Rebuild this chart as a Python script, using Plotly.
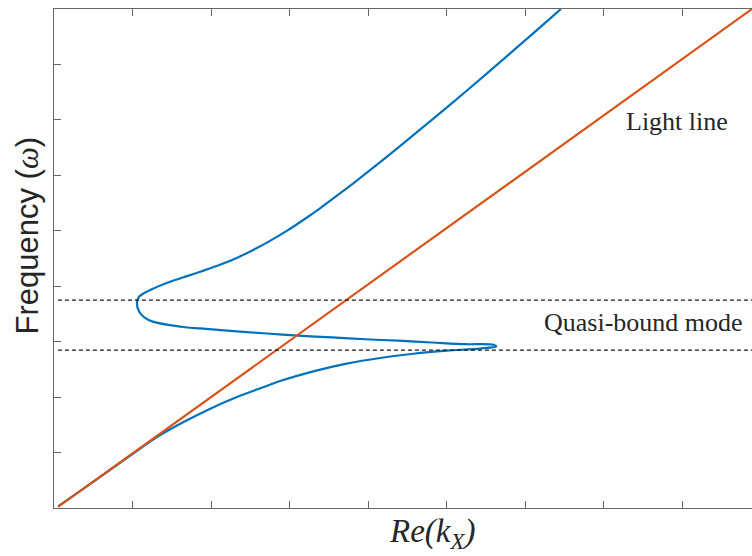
import plotly.graph_objects as go

# Light line
light_x = [0.05, 8.89]
light_y = [0.02, 9.0]

# Dispersion curve (continuous): lower branch -> tip -> middle -> nose -> upper branch
disp_x = [0.057, 0.50, 0.99, 1.311, 1.650, 1.990, 2.330, 2.669, 2.878, 3.302, 3.728, 4.152,
          4.576, 5.001, 5.425, 5.633, 5.599, 5.238, 4.818, 4.385, 3.964, 3.544, 3.111,
          2.712, 2.287, 1.862, 1.693, 1.480, 1.268, 1.150, 1.085, 1.056, 1.079, 1.140,
          1.268, 1.480, 1.693, 1.901, 2.114, 2.327, 2.538, 2.751, 2.964, 3.175, 3.388,
          3.600, 3.812, 4.194, 4.619, 5.043, 5.467, 5.893, 6.317, 6.457]
disp_y = [0.033, 0.47, 0.965, 1.279, 1.550, 1.792, 2.002, 2.182, 2.290, 2.465, 2.604, 2.706,
          2.782, 2.837, 2.876, 2.913, 2.945, 2.954, 2.985, 3.017, 3.044, 3.077, 3.108,
          3.147, 3.189, 3.238, 3.256, 3.297, 3.357, 3.440, 3.540, 3.689, 3.803, 3.870,
          3.960, 4.080, 4.182, 4.280, 4.387, 4.511, 4.655, 4.818, 4.998, 5.195, 5.406,
          5.628, 5.857, 6.284, 6.773, 7.271, 7.781, 8.303, 8.826, 9.0]

# Quasi-bound mode frequency bounds (dashed)
dash_levels = [3.749, 2.846]
dash_x = [0.05, 8.89]

x_range = [0, 8.89]
y_range = [0, 9]

fig = go.Figure()
fig.add_trace(go.Scatter(x=disp_x, y=disp_y, mode="lines",
                         line=dict(color="#0072BD", width=2.2, shape="spline", smoothing=0.8),
                         showlegend=False))
fig.add_trace(go.Scatter(x=light_x, y=light_y, mode="lines",
                         line=dict(color="#D95319", width=2.2), showlegend=False))
for lv in dash_levels:
    fig.add_trace(go.Scatter(x=dash_x, y=[lv, lv], mode="lines",
                             line=dict(color="#1a1a1a", width=1.2, dash="4px,3px"),
                             showlegend=False))

axis_common = dict(showgrid=False, zeroline=False, showticklabels=False,
                   ticks="inside", ticklen=7, tickwidth=1, tickcolor="#666666",
                   showline=True, linecolor="#666666", linewidth=1)

fig.update_xaxes(range=x_range, dtick=1, tick0=0, mirror="ticks", **axis_common)
fig.update_yaxes(range=y_range, dtick=1, tick0=0, mirror=False, **axis_common)

serif = "Liberation Serif"
fig.add_annotation(x=7.94, y=6.98, xref="x", yref="y", text="Light line",
                   showarrow=False, xanchor="center", yanchor="middle",
                   font=dict(family=serif, size=26, color="#262626"))
fig.add_annotation(x=7.505, y=3.337, xref="x", yref="y", text="Quasi-bound mode",
                   showarrow=False, xanchor="center", yanchor="middle",
                   font=dict(family=serif, size=26, color="#262626"))

# Axis titles
fig.add_annotation(x=(432.5 - 54) / 698, y=(508 - 533) / 499, xref="paper", yref="paper",
                   text="<i>Re(k<sub>X</sub>)</i>", showarrow=False,
                   xanchor="center", yanchor="middle",
                   font=dict(family=serif, size=33, color="#262626"))
fig.add_annotation(x=(26.5 - 54) / 698, y=(508 - 236) / 499, xref="paper", yref="paper",
                   text="Frequency (<span style=\"font-family:'Liberation Serif'\"><i>ω</i></span>)",
                   showarrow=False, textangle=-90,
                   xanchor="center", yanchor="middle",
                   font=dict(family="Liberation Sans", size=31, color="#262626"))

fig.update_layout(width=752, height=556, margin=dict(l=54, r=0, t=9, b=48),
                  plot_bgcolor="white", paper_bgcolor="white")

fig.write_html("out.html")
